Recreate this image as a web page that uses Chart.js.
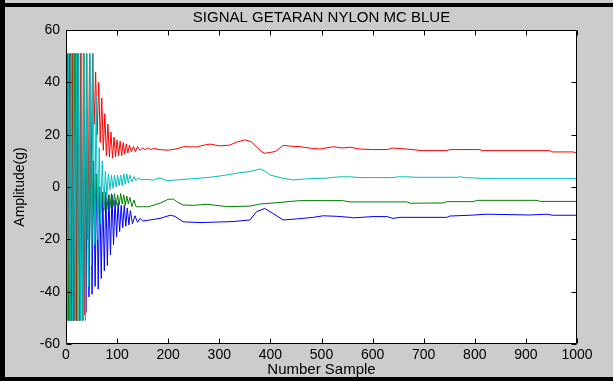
<!DOCTYPE html>
<html>
<head>
<meta charset="utf-8">
<script src="https://cdn.jsdelivr.net/npm/chart.js@4.4.1/dist/chart.umd.min.js"></script>
<style>
  html, body { margin: 0; padding: 0; background: #cccccc; overflow: hidden; width: 613px; height: 381px; }
  #wrap { position: relative; width: 613px; height: 381px; background: #cccccc; }
  canvas { display: block; position: absolute; left: 0; top: 0; }
</style>
</head>
<body>
<div id="wrap"><canvas id="c" width="613" height="381"></canvas></div>
<script>
const chartTitle = 'SIGNAL GETARAN NYLON MC BLUE';
const xTitle = 'Number Sample';
const yTitle = 'Amplitude(g)';
const xTicks = [0, 100, 200, 300, 400, 500, 600, 700, 800, 900, 1000];
const yTicks = [-60, -40, -20, 0, 20, 40, 60];

const redPts = [[0,51],[2,-51],[4,51],[7,-51],[9,51],[12,-51],[14,51],[17,-51],[19,51],[22,-51],[24,51],[27,-51],[29,51],[32,-51],[34,51],[37,-49],[40,51],[43,-20],[46,51],[49,0],[52,51],[55,24],[58,44],[61,20],[64,40],[67,17],[70,34],[73,14],[76,28],[79,12],[82,24],[85,11.5],[88,21],[91,11],[94,19],[97,11.5],[100,18],[103,12],[106,17.5],[109,12],[112,17],[115,12.5],[118,16.5],[121,13],[124,16],[128,13.5],[132,15.5],[136,13.5],[140,15.5],[145,14],[150,15],[155,14.2],[160,15],[166,14.3],[172,14.8],[180,14.3],[200,14.1],[215,14.5],[230,15.4],[255,15.3],[270,16.0],[282,16.4],[300,15.7],[320,16.0],[335,17.2],[350,18.0],[362,17.3],[373,15.4],[382,13.6],[389,12.9],[400,13.2],[410,13.6],[425,15.9],[440,15.6],[458,15.4],[480,14.8],[497,14.5],[523,15.4],[540,14.9],[556,15.2],[575,14.5],[600,14.3],[628,14.3],[640,14.9],[667,14.5],[697,13.9],[745,13.9],[751,14.3],[810,14.3],[814,13.9],[947,13.9],[951,13.4],[992,13.4],[1000,13.1]];

const cyanPts = [[0,5],[1,51],[3,-51],[5,51],[8,-51],[10,51],[13,-51],[15,51],[18,-51],[20,51],[23,-51],[25,51],[28,-51],[30,51],[33,-51],[35,51],[38,-51],[41,51],[44,-38],[47,51],[50,-30],[53,51],[56,-22],[59,35],[62,-20],[65,15],[68,-14],[71,10],[74,-8],[77,6],[80,-3],[83,5],[86,-1],[89,4.5],[92,-0.5],[95,4.5],[98,0],[101,4.5],[104,0.5],[107,4.5],[110,0.5],[113,5],[116,1],[119,5],[122,1.5],[125,4.5],[129,2],[133,4],[137,2.5],[141,3.5],[145,3],[150,2.8],[164,2.9],[170,2.5],[178,3.3],[185,3.4],[198,2.4],[217,2.7],[249,3.2],[282,3.7],[315,4.6],[341,5.5],[360,5.9],[380,6.9],[389,6.1],[399,4.6],[425,3.3],[444,2.7],[477,3.2],[511,3.4],[536,3.9],[556,3.9],[575,3.6],[640,3.6],[650,3.9],[667,3.9],[687,3.7],[765,3.7],[771,3.9],[780,3.6],[816,3.3],[992,3.3],[1000,3.2]];

const greenPts = [[0,-51],[2,51],[5,-51],[7,51],[10,-51],[12,51],[15,-51],[17,51],[20,-51],[23,51],[26,-51],[29,51],[32,-51],[35,51],[38,-45],[41,30],[44,-35],[47,20],[50,-22],[53,10],[56,-15],[59,5],[62,-12],[65,0],[68,-10],[71,-2],[74,-9],[77,-3],[80,-8.5],[83,-3],[86,-8],[89,-2.5],[92,-7.5],[95,-2.5],[98,-7],[101,-3],[104,-7],[107,-2.5],[110,-6.5],[113,-3],[116,-7],[119,-3.5],[122,-6.5],[125,-4],[129,-7.5],[133,-5],[137,-7.5],[141,-7.6],[150,-7.5],[160,-7.6],[174,-6.8],[184,-6.2],[200,-4.7],[210,-4.6],[217,-5.6],[229,-6.9],[249,-7],[276,-6.6],[315,-7.5],[360,-7.3],[380,-6.5],[413,-6],[458,-5.2],[511,-5.2],[540,-5.2],[556,-5.7],[667,-5.7],[673,-6.2],[738,-6.1],[745,-5.6],[797,-5.6],[804,-5.1],[922,-5.1],[928,-5.5],[1000,-5.5]];

const bluePts = [[0,-30],[3,-51],[6,20],[9,-51],[12,25],[15,-51],[18,26],[21,-51],[24,27],[27,-51],[30,27],[33,-51],[36,26],[39,-48],[42,20],[45,-42],[48,18],[51,-41],[54,10],[57,-38],[60,5],[63,-39],[66,0],[69,-35],[72,-2],[75,-32],[78,-2],[81,-30],[84,-3],[87,-26],[90,-3],[93,-22],[96,-5],[99,-19],[102,-6],[105,-17],[108,-7],[111,-15.5],[114,-7],[117,-15],[120,-8],[123,-14.5],[126,-9],[130,-14],[135,-11],[140,-13.5],[145,-12],[150,-13],[164,-12.6],[184,-12],[204,-10.8],[213,-11.2],[229,-13.3],[262,-13.6],[295,-13.4],[327,-13.2],[360,-12.6],[373,-9.4],[389,-8.2],[405,-10.1],[425,-12.6],[451,-12.2],[484,-11.6],[503,-11],[530,-11.2],[556,-11.6],[562,-11.8],[601,-11.3],[628,-11.3],[640,-12],[654,-11.6],[745,-11.6],[751,-11.1],[790,-10.8],[824,-10.4],[908,-10.7],[941,-10.4],[953,-10.8],[1000,-10.8]];

const toXY = pts => pts.map(p => ({x: p[0], y: p[1]}));

const framePlugin = {
  id: 'frame',
  beforeDraw(chart) {
    const ctx = chart.ctx;
    const W = 613, H = 381;
    const a = chart.chartArea;
    ctx.save();
    ctx.fillStyle = '#cccccc';
    ctx.fillRect(0, 0, W, H);
    ctx.fillStyle = '#000000';
    ctx.fillRect(0, 0, 5, H);
    ctx.fillRect(0, 3, W, 4);
    ctx.fillRect(0, H - 4, W, 4);
    ctx.fillStyle = '#ffffff';
    ctx.fillRect(a.left, a.top, a.right - a.left, a.bottom - a.top);
    ctx.restore();
  },
  afterDraw(chart) {
    const ctx = chart.ctx;
    const a = chart.chartArea;
    const xs = chart.scales.x, ys = chart.scales.y;
    const L = Math.round(a.left) + 0.5, R = Math.round(a.right) - 0.5;
    const T = Math.round(a.top) + 0.5, B = Math.round(a.bottom) - 0.5;
    ctx.save();
    ctx.strokeStyle = '#000';
    ctx.lineWidth = 1;
    ctx.beginPath();
    ctx.rect(L, T, R - L, B - T);
    const tl = 5;
    xTicks.forEach(v => {
      const px = Math.round(xs.getPixelForValue(v)) + 0.5;
      ctx.moveTo(px, B); ctx.lineTo(px, B - tl);
      ctx.moveTo(px, T); ctx.lineTo(px, T + tl);
    });
    yTicks.forEach(v => {
      const py = Math.round(ys.getPixelForValue(v)) + 0.5;
      ctx.moveTo(L, py); ctx.lineTo(L + tl, py);
      ctx.moveTo(R, py); ctx.lineTo(R - tl, py);
    });
    ctx.stroke();
    ctx.restore();
  }
};

const font = 'Liberation Sans, Arial, sans-serif';

new Chart(document.getElementById('c'), {
  type: 'line',
  data: {
    datasets: [
      {label: 'cyan', data: toXY(cyanPts), borderColor: '#00bfbf', order: 1},
      {label: 'red', data: toXY(redPts), borderColor: '#ff0000', order: 2},
      {label: 'green', data: toXY(greenPts), borderColor: '#008000', order: 3},
      {label: 'blue', data: toXY(bluePts), borderColor: '#0000ff', order: 4}
    ].map(d => Object.assign(d, {borderWidth: 1, pointRadius: 0, tension: 0, fill: false}))
  },
  options: {
    responsive: false,
    animation: false,
    devicePixelRatio: 1,
    layout: {padding: {left: 0, right: 36, top: 0, bottom: 0}},
    plugins: {
      legend: {display: false},
      tooltip: {enabled: false},
      title: {
        display: true, text: chartTitle, color: '#000', fullSize: false,
        font: {family: font, size: 15, weight: 'normal'},
        padding: {top: 9, bottom: 3}
      }
    },
    scales: {
      x: {
        type: 'linear', min: 0, max: 1000,
        afterBuildTicks: s => { s.ticks = xTicks.map(v => ({value: v})); },
        grid: {display: false, drawTicks: false},
        border: {display: false},
        ticks: {color: '#000', font: {family: font, size: 14}, padding: 3, maxRotation: 0, autoSkip: false, callback: v => String(v)},
        title: {display: true, text: xTitle, color: '#000', font: {family: font, size: 15}, padding: {top: 0, bottom: 2}},
        afterFit: s => { s.height = 37; }
      },
      y: {
        type: 'linear', min: -60, max: 60,
        afterBuildTicks: s => { s.ticks = yTicks.map(v => ({value: v})); },
        grid: {display: false, drawTicks: false},
        border: {display: false},
        ticks: {color: '#000', font: {family: font, size: 14}, padding: 6, autoSkip: false, callback: v => String(v)},
        title: {display: true, text: yTitle, color: '#000', font: {family: font, size: 14}, padding: {top: 12, bottom: 0}},
        afterFit: s => { s.width = 66; }
      }
    }
  },
  plugins: [framePlugin]
});
</script>
</body>
</html>
